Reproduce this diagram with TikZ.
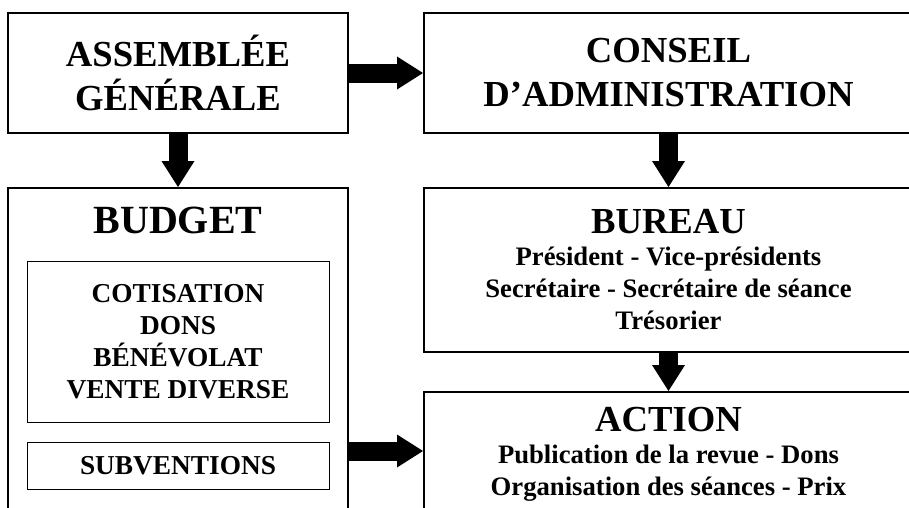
\documentclass[tikz,border=0pt]{standalone}
\usepackage{fontspec}
\setmainfont{Liberation Serif}
\usepackage{tikz}
\usetikzlibrary{arrows.meta,positioning}

\newcommand{\headtext}[1]{{\fontsize{27.5}{24}\selectfont #1}}

\begin{document}
\begin{tikzpicture}[x=0.75pt,y=-0.75pt]
  \tikzstyle{bnode} = [draw=black, line width=1.5pt, rectangle, inner sep=0pt, align=center, font=\bfseries\fontsize{27.5}{33}\selectfont]
  \tikzstyle{snode} = [bnode, font=\bfseries\fontsize{20}{24}\selectfont]
  \tikzstyle{inode} = [draw=black, line width=0.75pt, rectangle, inner sep=0pt, align=center, font=\bfseries\fontsize{20.5}{24}\selectfont]
  \tikzstyle{barrow} = [line width=14.25pt, -{Triangle[width=24.75pt,length=19.5pt,line width=0pt]}]

  \useasboundingbox (0,0) rectangle (909,507);
  \clip (0,0) rectangle (909,507);

  % top row
  \node[bnode, minimum width=255pt, minimum height=90pt] (ag) at (178,73) {ASSEMBLÉE\\GÉNÉRALE};
  \node[bnode, minimum width=366.75pt, minimum height=90pt] (ca) at (668.5,73) {CONSEIL\\D’ADMINISTRATION};

  % budget
  \node[bnode, minimum width=255pt, minimum height=249pt] (budget) at (178,354) {};
  \node[font=\bfseries\fontsize{30}{36}\selectfont, inner sep=0pt] (budgettitle) at (178,220.5) {BUDGET};
  \node[inode, minimum width=226.5pt, minimum height=120.75pt] (ressources) at (178,341.5) {COTISATION\\DONS\\BÉNÉVOLAT\\VENTE DIVERSE};
  \node[inode, minimum width=226.5pt, minimum height=35.25pt] (subventions) at (178,465.5) {SUBVENTIONS};

  % bureau and action
  \node[snode, minimum width=366.75pt, minimum height=123pt] (bureau) at (668.5,270)
    {\headtext{BUREAU}\\Président - Vice-présidents\\Secrétaire - Secrétaire de séance\\Trésorier};
  \node[snode, minimum width=366.75pt, minimum height=88.5pt, text depth=0pt] (action) at (668.5,451)
    {\headtext{ACTION}\\Publication de la revue - Dons\\Organisation des séances - Prix};

  % arrows
  \draw[barrow] (ag.east) -- (ca.west);
  \draw[barrow] (ag.south) -- (budget.north);
  \draw[barrow] (ca.south) -- (bureau.north);
  \draw[barrow] (bureau.south) -- (action.north);
  \draw[barrow] (budget.east |- action.west) -- (action.west);
\end{tikzpicture}
\end{document}
